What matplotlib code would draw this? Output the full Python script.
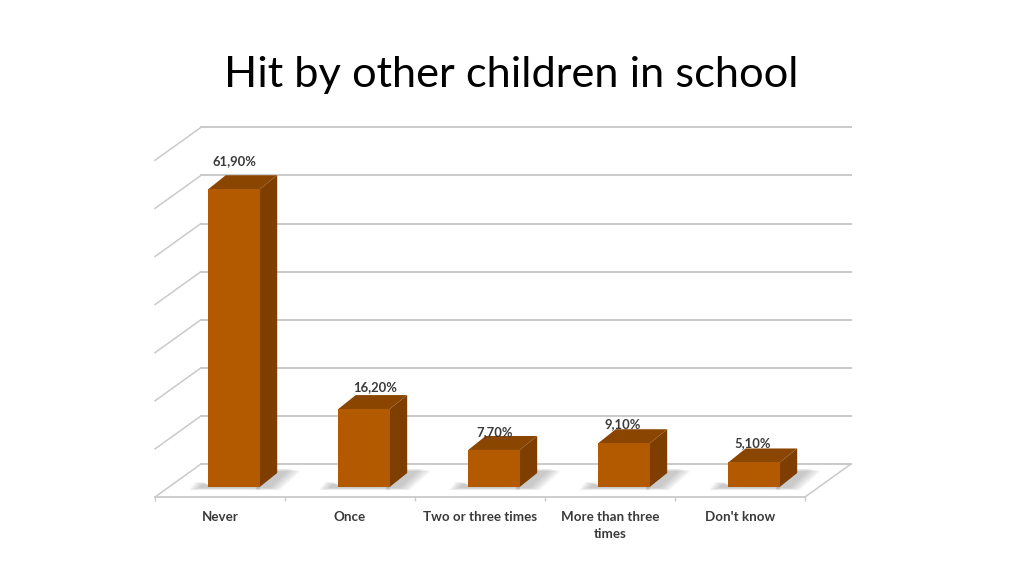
import matplotlib
matplotlib.use("Agg")
import matplotlib.pyplot as plt
from matplotlib.patches import Polygon

plt.rcParams['font.family'] = ['Lato', 'DejaVu Sans']

# data
categories = ["Never", "Once", "Two or three times", "More than three\ntimes", "Don't know"]
values = [61.9, 16.2, 7.7, 9.1, 5.1]
value_labels = ["61,90%", "16,20%", "7,70%", "9,10%", "5,10%"]
grid_values = [0, 10, 20, 30, 40, 50, 60, 70]

W, H = 1024, 576
fig = plt.figure(figsize=(W / 100, H / 100), dpi=100)

# axes = front plane of the fake 3d box, 130px per category, 4.81px per percent
px_x = 130.0
px_y = 4.81
left, base = 155, 497
ax_h = 4.81 * 75
ax = fig.add_axes([left / W, (H - base) / H, 650 / W, ax_h / H])
ax.set_xlim(-0.5, 4.5)
ax.set_ylim(0, ax_h / px_y)
ax.set_facecolor('none')

# depth of the box, converted from pixels to data units
dx = 46 / px_x
dy = 33 / px_y

grid_col = '#cacaca'
for v in grid_values:
    ax.plot([-0.5 + dx, 4.5 + dx], [v + dy, v + dy], color=grid_col, lw=1.4, zorder=1, clip_on=False)
    ax.plot([-0.5, -0.5 + dx], [v, v + dy], color=grid_col, lw=1.1, zorder=1, clip_on=False)
ax.plot([4.5, 4.5 + dx], [0, dy], color=grid_col, lw=1.1, zorder=1, clip_on=False)

# bars
bar_w = 51.5 / px_x
front_d = 10 / 33      # where the front face sits in the depth
bar_dx = 17.5 / px_x
bar_dy = 14 / px_y
front_col = '#b35900'
top_col = '#8a4500'
side_col = '#7d3e00'

for i, val in enumerate(values):
    x0 = i - bar_w / 2 + front_d * dx
    x1 = x0 + bar_w
    y0 = front_d * dy
    y1 = y0 + val

    # soft shadow on the floor, a few stacked polygons
    for k in range(6):
        g = (5 - k) * 2.0
        shadow = [(x1 - 4 / px_x, y0 - (1 + g * 0.2) / px_y),
                  (x1 + (10 + g) / px_x, y0 - (1 + g * 0.2) / px_y),
                  (x1 + (31 + g) / px_x, y0 + (18 - g * 0.2) / px_y),
                  (x1 + (16 - g) / px_x, y0 + (18 - g * 0.2) / px_y),
                  (x1, y0 + 4 / px_y)]
        ax.add_patch(Polygon(shadow, closed=True, fc='#8a8a8a', ec='none', alpha=0.09, zorder=2, clip_on=False))
        shadow2 = [(x0 - (9 + g) / px_x, y0 - (1 + g * 0.2) / px_y),
                   (x1, y0 - (1 + g * 0.2) / px_y),
                   (x1, y0 + 2 / px_y),
                   (x0, y0 + 2 / px_y),
                   (x0 - (3 + g) / px_x, y0 + 5 / px_y)]
        ax.add_patch(Polygon(shadow2, closed=True, fc='#8a8a8a', ec='none', alpha=0.09, zorder=2, clip_on=False))

    ax.add_patch(Polygon([(x1, y0), (x1 + bar_dx, y0 + bar_dy), (x1 + bar_dx, y1 + bar_dy), (x1, y1)],
                         closed=True, fc=side_col, ec='none', zorder=3, clip_on=False))
    ax.add_patch(Polygon([(x0, y1), (x1, y1), (x1 + bar_dx, y1 + bar_dy), (x0 + bar_dx, y1 + bar_dy)],
                         closed=True, fc=top_col, ec='none', zorder=3, clip_on=False))
    ax.bar(x0 + bar_w / 2, val, bar_w, bottom=y0, color=front_col, zorder=4, clip_on=False)

# value labels, nudged by hand like the original
label_dx = [0, 11, 1, -1, -1]
label_dy = [28, 22, 18, 19, 19]
for i, val in enumerate(values):
    xc = i + front_d * dx
    ax.annotate(value_labels[i], (xc, val + front_d * dy), xytext=(label_dx[i], label_dy[i]),
                textcoords='offset pixels', ha='center', va='center', fontsize=9.4,
                fontweight='bold', color='#3a3a3a', zorder=5, annotation_clip=False)

# axis: floor front edge with ticks at category borders
for s in ['top', 'left', 'right']:
    ax.spines[s].set_visible(False)
ax.spines['bottom'].set_color(grid_col)
ax.spines['bottom'].set_linewidth(1.3)
ax.set_yticks([])
ax.set_xticks(range(len(categories)))
ax.set_xticklabels(categories, fontsize=9.6, fontweight='bold', color='#3a3a3a', linespacing=1.5)
ax.set_xticks([i - 0.5 for i in range(len(categories) + 1)], minor=True)
ax.tick_params(axis='x', which='major', length=0, pad=10)
ax.tick_params(axis='x', which='minor', length=3, width=1, color=grid_col)

fig.text(511.5 / W, 1 - 75 / H, "Hit by other children in school", ha='center', va='center',
         fontsize=31.2, color='black')

fig.savefig('out.png', dpi=100, facecolor='white')
